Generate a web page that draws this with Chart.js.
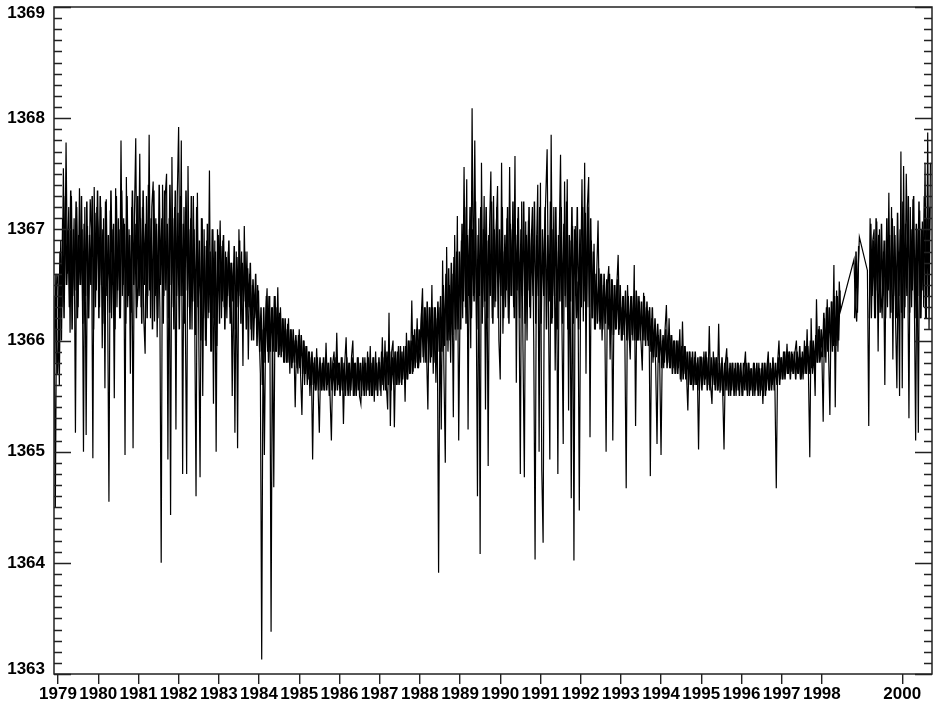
<!DOCTYPE html>
<html>
<head>
<meta charset="utf-8">
<script src="https://cdn.jsdelivr.net/npm/chart.js@4.4.0/dist/chart.umd.min.js"></script>
<style>
  html, body { margin: 0; padding: 0; background: #fff; }
  canvas { display: block; }
</style>
</head>
<body>
<canvas id="c" width="933" height="706"></canvas>
<script>
// ---- data (total solar irradiance, W/m^2) ----
// Samples are evenly spaced within each year. "tsi" = extremes/spikes,
// "core" = the dense daily band between them, sampled half a step later.
const SAMPLES_PER_YEAR = 30;
const tsi1978 = [1366.4,1364.5,1366.5]; // last part of 1978 (starts at sample 27)
const tsi1979 = [1366.6,1365.6,1366.9,1366.3,1367.55,1366.5,1367.78,1366.6,1367.2,1366.07,1367.3,1366.4,1367.1,1365.17,1367.2,1366.3,1367.37,1366.5,1367.0,1365.0,1367.2,1365.15,1367.03,1366.2,1367.27,1367.0,1364.94,1367.38,1366.3,1367.2];
const tsi1980 = [1367.0,1366.3,1367.2,1365.93,1367.1,1365.57,1367.27,1366.4,1364.55,1367.17,1366.2,1367.0,1365.48,1367.37,1366.3,1367.1,1366.2,1367.8,1366.4,1367.1,1364.97,1367.47,1366.3,1367.0,1365.7,1367.2,1365.03,1367.1,1367.82,1366.3];
const tsi1981 = [1366.5,1367.68,1366.3,1367.2,1366.2,1365.88,1367.3,1366.4,1367.85,1366.2,1367.2,1367.43,1366.17,1367.1,1366.03,1367.0,1366.3,1364.0,1367.4,1366.4,1367.3,1367.5,1364.93,1367.1,1364.43,1367.65,1366.3,1367.2,1365.2,1367.3];
const tsi1982 = [1367.92,1366.4,1367.8,1364.8,1367.2,1366.2,1364.8,1367.57,1366.3,1367.1,1366.1,1367.3,1366.2,1364.6,1367.33,1366.1,1364.77,1367.1,1365.5,1367.0,1366.0,1366.9,1366.2,1367.53,1365.9,1367.0,1365.43,1366.9,1365.0,1367.0];
const tsi1983 = [1366.5,1367.08,1366.2,1366.9,1366.3,1366.8,1366.2,1366.8,1366.3,1366.7,1365.5,1366.7,1365.17,1366.8,1365.03,1367.0,1366.4,1366.8,1365.77,1367.03,1366.3,1366.8,1365.83,1366.6,1366.1,1366.5,1366.0,1366.4,1366.2,1366.5];
const tsi1984 = [1366.1,1365.7,1363.13,1366.1,1364.97,1366.2,1366.47,1365.8,1366.4,1363.38,1366.3,1364.68,1366.4,1365.9,1366.48,1365.87,1366.3,1365.9,1366.2,1365.8,1366.1,1365.8,1366.2,1365.7,1366.1,1365.8,1366.0,1365.4,1366.0,1365.7];
const tsi1985 = [1366.1,1365.7,1365.33,1366.0,1365.6,1365.95,1365.6,1365.9,1365.5,1365.85,1364.93,1365.8,1365.55,1365.93,1365.6,1365.17,1365.8,1365.55,1365.85,1365.55,1365.98,1365.6,1365.8,1365.5,1365.1,1365.8,1365.9,1365.55,1366.07,1365.6];
const tsi1986 = [1365.8,1365.55,1365.85,1365.25,1365.8,1366.03,1365.55,1365.8,1365.5,1365.85,1366.0,1365.5,1365.8,1365.55,1365.85,1365.5,1365.43,1365.8,1365.55,1365.85,1365.5,1365.9,1365.55,1365.95,1365.5,1365.85,1365.45,1365.9,1365.55,1365.8];
const tsi1987 = [1365.8,1365.5,1366.03,1365.55,1366.0,1365.6,1365.38,1366.25,1365.23,1365.9,1366.0,1365.22,1365.9,1365.6,1365.95,1365.62,1365.9,1365.65,1365.95,1365.45,1366.07,1365.65,1366.0,1365.7,1366.36,1365.72,1366.1,1365.8,1366.2,1365.75];
const tsi1988 = [1365.9,1366.2,1366.47,1365.8,1366.3,1365.9,1365.38,1366.3,1365.8,1366.5,1365.7,1366.3,1365.62,1366.2,1363.91,1366.3,1365.2,1366.72,1365.7,1364.9,1366.84,1365.9,1366.5,1365.8,1366.6,1365.31,1366.95,1366.0,1367.12,1365.1];
const tsi1989 = [1366.3,1366.9,1366.2,1367.56,1366.3,1367.45,1365.2,1367.0,1365.93,1368.09,1366.4,1367.8,1366.5,1364.6,1367.1,1364.08,1367.6,1366.3,1367.3,1365.38,1366.9,1364.87,1367.0,1367.52,1366.2,1367.3,1366.3,1367.0,1367.39,1366.0];
const tsi1990 = [1365.65,1367.6,1366.06,1366.8,1366.3,1367.1,1366.2,1367.56,1366.4,1367.0,1366.3,1367.66,1365.62,1367.1,1366.4,1364.8,1367.25,1365.9,1364.77,1367.07,1366.0,1367.08,1366.3,1366.83,1367.2,1366.0,1364.03,1366.8,1367.4,1365.0];
const tsi1991 = [1367.42,1364.83,1364.18,1366.9,1367.3,1367.72,1366.3,1364.93,1367.85,1366.2,1367.2,1365.73,1366.8,1364.8,1366.9,1367.67,1366.2,1365.07,1367.43,1366.3,1367.45,1365.37,1366.9,1364.58,1367.03,1364.02,1367.03,1366.2,1366.53,1364.47];
const tsi1992 = [1366.5,1367.45,1366.17,1367.6,1365.7,1367.2,1367.47,1365.13,1366.9,1366.2,1366.87,1366.1,1366.6,1367.08,1366.17,1366.6,1366.0,1366.5,1366.2,1365.0,1366.5,1366.67,1365.83,1366.55,1365.1,1366.5,1366.1,1366.5,1366.77,1366.1];
const tsi1993 = [1366.3,1366.0,1366.4,1366.0,1364.67,1366.5,1366.1,1365.83,1366.4,1366.0,1366.68,1365.23,1366.4,1366.0,1366.35,1366.0,1365.73,1366.43,1366.0,1366.3,1366.0,1366.27,1364.78,1366.2,1365.8,1366.1,1365.77,1365.07,1366.05,1365.8];
const tsi1994 = [1364.97,1366.0,1365.75,1366.1,1366.32,1365.8,1366.2,1365.75,1366.05,1365.75,1366.0,1365.7,1366.0,1365.75,1366.1,1365.63,1366.17,1365.7,1365.95,1365.7,1365.37,1365.9,1365.6,1365.85,1365.55,1365.85,1365.6,1365.8,1365.02,1365.85];
const tsi1995 = [1365.85,1365.6,1365.9,1365.65,1365.85,1365.6,1366.13,1365.6,1365.43,1365.9,1365.6,1365.85,1365.55,1366.15,1365.53,1365.8,1365.55,1365.02,1365.8,1365.93,1365.55,1365.75,1365.5,1365.8,1365.55,1365.75,1365.5,1365.8,1365.55,1365.75];
const tsi1996 = [1365.7,1365.5,1365.75,1365.9,1365.55,1365.8,1365.5,1365.75,1365.55,1365.8,1365.5,1365.75,1365.55,1365.8,1365.5,1365.75,1365.43,1365.8,1365.5,1365.75,1365.9,1365.55,1365.75,1365.6,1365.8,1365.55,1364.67,1365.8,1366.0,1365.65];
const tsi1997 = [1365.85,1365.65,1365.9,1365.7,1365.97,1365.7,1365.9,1365.72,1365.88,1365.7,1365.9,1366.0,1365.7,1365.85,1365.65,1365.85,1365.65,1366.0,1365.7,1366.1,1365.7,1364.95,1366.2,1365.7,1365.9,1365.5,1366.37,1365.8,1366.13,1365.85];
const tsi1998 = [1365.9,1365.27,1366.2,1365.8,1366.37,1365.9,1365.33,1366.35,1365.9,1366.68,1365.4,1366.45,1365.9,1366.53,1366.27,null,null,null,null,null,null,null,null,null,1366.73,1366.3,1366.17,1366.6,1366.93,null];
const tsi1999 = [null,null,null,null,1366.63,1365.23,1367.1,1366.2,1366.9,1367.0,1366.2,1367.07,1365.9,1367.0,1366.47,1366.2,1366.8,1365.6,1366.9,1366.3,1367.33,1366.2,1367.2,1365.83,1367.03,1366.2,1365.57,1366.8,1365.5,1367.7];
const tsi2000 = [1365.57,1367.57,1366.3,1367.5,1366.77,1365.3,1367.2,1366.3,1367.27,1366.4,1365.1,1367.0,1365.17,1367.17,1366.2,1367.07,1366.3,1367.6,1366.2,1367.87,1366.1,1367.6];

const core1978 = [1365.8,1366.6,1365.7];
const core1979 = [1365.9,1366.8,1366.0,1367.1,1366.2,1367.3,1366.5,1367.0,1366.3,1367.35,1366.1,1367.0,1366.45,1367.25,1366.2,1366.95,1366.5,1367.3,1366.15,1367.05,1366.4,1367.25,1366.2,1366.95,1366.5,1367.3,1366.1,1367.15,1366.45,1367.35];
const core1980 = [1366.2,1367.3,1366.5,1367.0,1366.15,1367.25,1366.4,1366.95,1366.25,1367.35,1366.5,1367.05,1366.1,1367.3,1366.45,1367.0,1366.2,1367.35,1366.5,1367.05,1366.15,1367.3,1366.4,1366.95,1366.25,1367.35,1366.5,1367.05,1366.2,1367.3];
const core1981 = [1366.4,1367.1,1366.15,1367.35,1366.5,1367.05,1366.2,1367.4,1366.45,1367.1,1366.1,1367.35,1366.4,1367.05,1366.2,1367.4,1366.5,1367.1,1366.15,1367.35,1366.45,1367.05,1366.2,1367.4,1366.5,1367.1,1366.1,1367.35,1366.4,1367.15];
const core1982 = [1366.1,1367.3,1366.4,1367.05,1366.15,1367.35,1366.45,1367.0,1366.1,1367.3,1366.35,1367.0,1366.05,1367.2,1366.3,1366.9,1366.0,1367.1,1366.2,1366.85,1365.95,1367.05,1366.25,1366.8,1365.9,1367.0,1366.2,1366.8,1365.95,1366.95];
const core1983 = [1366.15,1366.85,1366.35,1366.95,1366.1,1366.75,1366.4,1366.9,1366.15,1366.7,1366.35,1366.85,1366.1,1366.75,1366.3,1366.9,1366.15,1366.7,1366.35,1366.8,1366.1,1366.65,1366.3,1366.7,1366.0,1366.55,1366.2,1366.6,1365.95,1366.45];
const core1984 = [1365.9,1366.3,1365.6,1366.3,1365.8,1366.4,1365.9,1366.4,1365.9,1366.3,1365.9,1366.4,1365.9,1366.3,1365.85,1366.25,1365.85,1366.2,1365.8,1366.2,1365.8,1366.15,1365.8,1366.1,1365.75,1366.1,1365.8,1366.05,1365.75,1366.05];
const core1985 = [1365.75,1366.05,1365.7,1366.0,1365.7,1365.95,1365.65,1365.9,1365.6,1365.9,1365.6,1365.85,1365.55,1365.85,1365.55,1365.85,1365.55,1365.8,1365.55,1365.85,1365.55,1365.8,1365.5,1365.85,1365.55,1365.8,1365.5,1365.85,1365.55,1365.8];
const core1986 = [1365.5,1365.85,1365.55,1365.8,1365.5,1365.85,1365.5,1365.8,1365.55,1365.85,1365.5,1365.8,1365.5,1365.85,1365.55,1365.8,1365.5,1365.85,1365.5,1365.8,1365.55,1365.85,1365.5,1365.8,1365.5,1365.85,1365.55,1365.8,1365.5,1365.85];
const core1987 = [1365.55,1365.9,1365.6,1365.85,1365.55,1365.9,1365.6,1365.9,1365.55,1365.85,1365.6,1365.9,1365.6,1365.9,1365.6,1365.95,1365.6,1365.9,1365.65,1365.95,1365.65,1366.0,1365.7,1366.0,1365.7,1366.05,1365.75,1366.1,1365.75,1366.1];
const core1988 = [1365.8,1366.3,1365.85,1366.3,1365.8,1366.35,1365.8,1366.3,1365.85,1366.3,1365.8,1366.3,1365.85,1366.35,1365.9,1366.4,1365.9,1366.5,1365.95,1366.6,1366.0,1366.65,1366.0,1366.7,1366.05,1366.75,1366.1,1366.8,1366.1,1366.8];
const core1989 = [1366.1,1367.05,1366.35,1367.2,1366.15,1366.95,1366.4,1367.2,1366.2,1367.0,1366.35,1367.25,1366.1,1366.95,1366.4,1367.2,1366.15,1367.0,1366.35,1367.2,1366.2,1366.95,1366.4,1367.25,1366.15,1367.0,1366.35,1367.2,1366.2,1367.0];
const core1990 = [1366.4,1367.2,1366.2,1366.95,1366.45,1367.2,1366.15,1367.05,1366.4,1367.25,1366.2,1366.95,1366.45,1367.2,1366.2,1367.0,1366.4,1367.25,1366.15,1366.95,1366.45,1367.2,1366.2,1367.0,1366.4,1367.25,1366.15,1366.95,1366.4,1367.2];
const core1991 = [1366.15,1367.0,1366.4,1367.2,1366.1,1366.95,1366.35,1367.25,1366.15,1367.0,1366.4,1367.2,1366.1,1366.95,1366.35,1367.2,1366.15,1367.05,1366.4,1367.25,1366.1,1366.95,1366.35,1367.2,1366.15,1367.0,1366.4,1367.2,1366.1,1367.0];
const core1992 = [1366.3,1367.2,1366.35,1367.15,1366.3,1367.2,1366.3,1367.1,1366.2,1366.8,1366.1,1366.6,1366.15,1366.65,1366.1,1366.6,1366.1,1366.6,1366.15,1366.55,1366.1,1366.6,1366.1,1366.55,1366.05,1366.5,1366.1,1366.55,1366.05,1366.5];
const core1993 = [1366.0,1366.4,1366.05,1366.45,1366.0,1366.4,1366.0,1366.4,1366.05,1366.4,1366.0,1366.45,1366.0,1366.4,1366.0,1366.35,1366.0,1366.4,1365.95,1366.35,1365.95,1366.3,1365.9,1366.3,1365.85,1366.2,1365.85,1366.15,1365.8,1366.1];
const core1994 = [1365.75,1366.05,1365.8,1366.1,1365.75,1366.05,1365.75,1366.05,1365.7,1366.0,1365.7,1366.0,1365.7,1366.0,1365.65,1365.95,1365.65,1365.95,1365.65,1365.9,1365.6,1365.9,1365.6,1365.9,1365.6,1365.9,1365.6,1365.85,1365.55,1365.85];
const core1995 = [1365.55,1365.85,1365.6,1365.9,1365.55,1365.85,1365.55,1365.85,1365.6,1365.85,1365.55,1365.85,1365.55,1365.8,1365.55,1365.85,1365.5,1365.8,1365.55,1365.85,1365.5,1365.8,1365.55,1365.8,1365.5,1365.8,1365.55,1365.8,1365.5,1365.8];
const core1996 = [1365.5,1365.8,1365.55,1365.8,1365.5,1365.8,1365.55,1365.75,1365.5,1365.8,1365.55,1365.8,1365.5,1365.75,1365.55,1365.8,1365.5,1365.8,1365.55,1365.8,1365.55,1365.8,1365.55,1365.85,1365.55,1365.8,1365.6,1365.85,1365.6,1365.85];
const core1997 = [1365.65,1365.9,1365.65,1365.9,1365.7,1365.9,1365.65,1365.9,1365.7,1365.9,1365.65,1365.9,1365.7,1365.95,1365.65,1365.9,1365.7,1365.95,1365.7,1365.95,1365.7,1366.0,1365.75,1366.0,1365.75,1366.05,1365.8,1366.1,1365.8,1366.1];
const core1998 = [1365.85,1366.25,1365.85,1366.3,1365.9,1366.3,1365.9,1366.35,1365.95,1366.4,1365.95,1366.4,1366.0,1366.45,null,null,null,null,null,null,null,null,null,null,1366.2,1366.8,1366.25,1366.85,null,null];
const core1999 = [null,null,null,null,null,1366.2,1367.05,1366.4,1366.9,1366.2,1367.1,1366.45,1366.95,1366.25,1367.05,1366.4,1366.9,1366.2,1367.1,1366.45,1366.95,1366.25,1367.1,1366.4,1366.95,1366.2,1367.15,1366.4,1367.0,1366.25];
const core2000 = [1367.25,1366.2,1367.05,1366.4,1367.3,1366.25,1367.0,1366.45,1367.3,1366.2,1367.05,1366.4,1367.25,1366.2,1367.0,1366.45,1367.3,1366.2,1367.1,1366.4,1367.2];

const xTickYears = [1979,1980,1981,1982,1983,1984,1985,1986,1987,1988,1989,1990,1991,1992,1993,1994,1995,1996,1997,1998,2000];
const yTickValues = [1363,1364,1365,1366,1367,1368,1369];

const years = [1978,1979,1980,1981,1982,1983,1984,1985,1986,1987,1988,1989,1990,1991,1992,1993,1994,1995,1996,1997,1998,1999,2000];
const tsiByYear = [tsi1978,tsi1979,tsi1980,tsi1981,tsi1982,tsi1983,tsi1984,tsi1985,tsi1986,tsi1987,tsi1988,tsi1989,tsi1990,tsi1991,tsi1992,tsi1993,tsi1994,tsi1995,tsi1996,tsi1997,tsi1998,tsi1999,tsi2000];
const coreByYear = [core1978,core1979,core1980,core1981,core1982,core1983,core1984,core1985,core1986,core1987,core1988,core1989,core1990,core1991,core1992,core1993,core1994,core1995,core1996,core1997,core1998,core1999,core2000];
const firstSample = { 1978: 27 };

function buildPoints(byYear, phase) {
  const pts = [];
  years.forEach((yr, k) => {
    const off = firstSample[yr] || 0;
    byYear[k].forEach((v, i) => pts.push({ x: yr + (i + off + phase) / SAMPLES_PER_YEAR, y: v }));
  });
  return pts;
}

const LABEL_FONT = 'bold 17px "Liberation Sans", Arial, sans-serif';

const framePlugin = {
  id: 'frame',
  afterDraw(chart) {
    const { ctx, chartArea: a, scales: { y } } = chart;
    ctx.save();
    ctx.strokeStyle = '#222';
    ctx.lineWidth = 1.4;
    const yMin = yTickValues[0], yMax = yTickValues[yTickValues.length - 1];
    const n = Math.round((yMax - yMin) * 10);
    ctx.beginPath();
    for (let k = 0; k <= n; k++) {
      const py = Math.round(y.getPixelForValue(yMin + k / 10)) + 0.5;
      const len = (k % 10 === 0) ? 17 : 8;
      ctx.moveTo(a.left, py); ctx.lineTo(a.left + len, py);
      ctx.moveTo(a.right, py); ctx.lineTo(a.right - len, py);
    }
    ctx.stroke();
    ctx.lineWidth = 1.5;
    ctx.strokeRect(a.left, a.top, a.right - a.left, a.bottom - a.top);
    ctx.fillStyle = '#000';
    ctx.font = LABEL_FONT;
    ctx.textAlign = 'right';
    ctx.textBaseline = 'middle';
    yTickValues.forEach(v => {
      let py = y.getPixelForValue(v);
      py = Math.min(Math.max(py, a.top + 6), a.bottom - 5);
      ctx.fillText(String(v), 45, py);
    });
    ctx.restore();
  }
};

new Chart(document.getElementById('c'), {
  type: 'line',
  data: {
    datasets: [{
      data: buildPoints(coreByYear, 0.5),
      borderColor: '#000',
      borderWidth: 1.5,
      pointRadius: 0,
      tension: 0,
      spanGaps: false,
      fill: false
    }, {
      data: buildPoints(tsiByYear, 0),
      borderColor: '#000',
      borderWidth: 1.2,
      pointRadius: 0,
      tension: 0,
      spanGaps: true,
      fill: false
    }]
  },
  options: {
    responsive: false,
    animation: false,
    devicePixelRatio: 1,
    layout: { padding: { top: 7, right: 1, left: 0, bottom: 0 } },
    plugins: { legend: { display: false }, tooltip: { enabled: false } },
    scales: {
      x: {
        type: 'linear',
        min: 1978.9,
        max: 2000.74,
        afterBuildTicks: s => { s.ticks = xTickYears.map(v => ({ value: v })); },
        afterFit: s => { s.height = 32; },
        ticks: {
          autoSkip: false, maxRotation: 0, minRotation: 0, color: '#000', padding: 0,
          font: { family: '"Liberation Sans", Arial, sans-serif', weight: 'bold', size: 17 },
          callback: v => String(v)
        },
        grid: { display: true, drawOnChartArea: false, drawTicks: true, tickLength: 10, color: '#222', lineWidth: 1.4 },
        border: { display: false }
      },
      y: {
        min: yTickValues[0],
        max: yTickValues[yTickValues.length - 1],
        afterFit: s => { s.width = 54; },
        ticks: { display: false },
        grid: { display: false },
        border: { display: false }
      }
    }
  },
  plugins: [framePlugin]
});
</script>
</body>
</html>
